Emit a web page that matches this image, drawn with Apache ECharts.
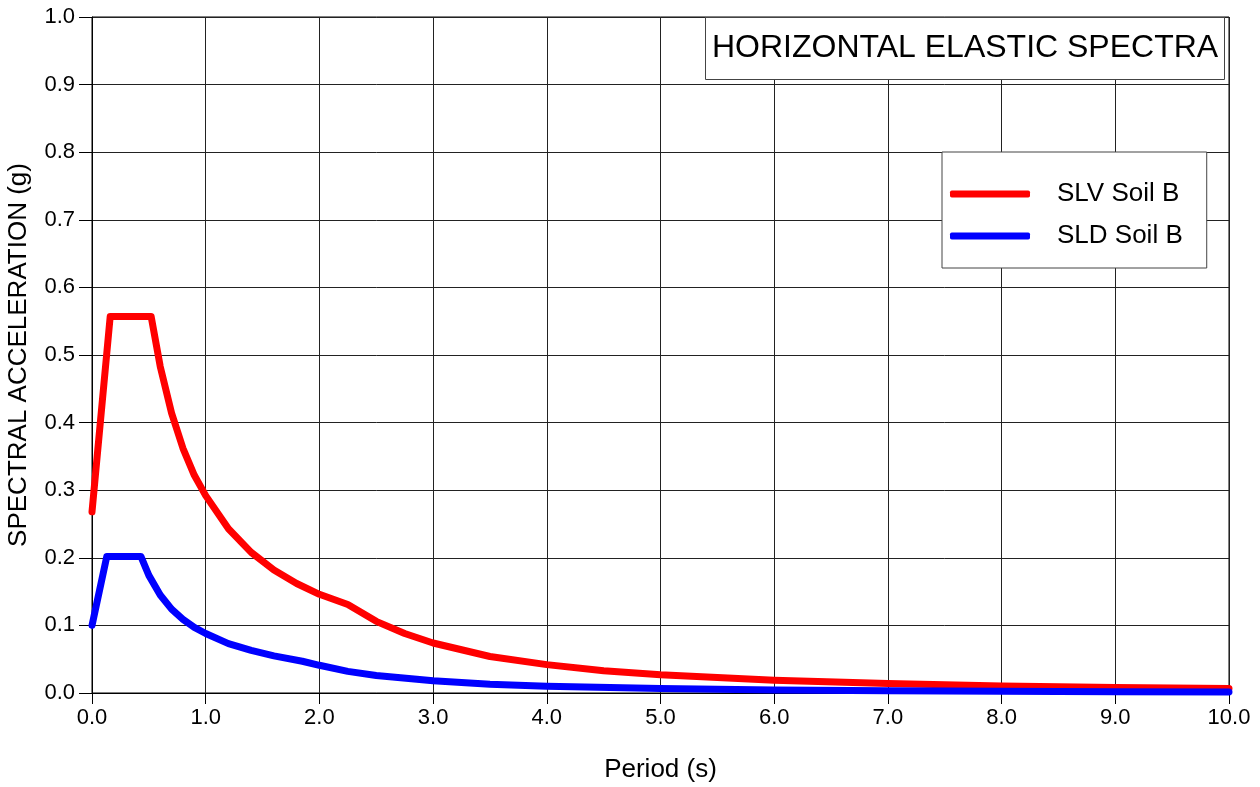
<!DOCTYPE html>
<html>
<head>
<meta charset="utf-8">
<script src="https://cdn.jsdelivr.net/npm/echarts@6/dist/echarts.min.js"></script>
<style>
	html, body { margin: 0; padding: 0; background: #fff; }
	#chart { width: 1260px; height: 787px; }
</style>
</head>
<body>
<div id="chart"></div>
<script>
// values (period in s, acceleration in g)
var slvPeriod = [0, 0.16, 0.52, 0.6, 0.7, 0.8, 0.9, 1.0, 1.2, 1.4, 1.6, 1.8, 2.0, 2.25, 2.5, 2.75, 3.0, 3.5, 4.0, 4.5, 5.0, 6.0, 7.0, 8.0, 9.0, 10.0];
var slvAccel = [0.268, 0.557, 0.557, 0.483, 0.414, 0.362, 0.322, 0.292, 0.243, 0.208, 0.182, 0.162, 0.146, 0.131, 0.106, 0.088, 0.074, 0.054, 0.042, 0.033, 0.027, 0.019, 0.014, 0.0105, 0.0083, 0.0067];

var sldPeriod = [0, 0.13, 0.43, 0.5, 0.6, 0.7, 0.8, 0.9, 1.0, 1.2, 1.4, 1.6, 1.85, 2.0, 2.25, 2.5, 3.0, 3.5, 4.0, 5.0, 6.0, 7.0, 8.0, 9.0, 10.0];
var sldAccel = [0.100, 0.202, 0.202, 0.174, 0.145, 0.124, 0.109, 0.097, 0.088, 0.073, 0.063, 0.055, 0.047, 0.041, 0.032, 0.026, 0.018, 0.013, 0.010, 0.0065, 0.0045, 0.0033, 0.0025, 0.0020, 0.0016];

var seriesNames = ['SLV Soil B', 'SLD Soil B'];
var seriesColors = ['#ff0000', '#0000ff'];

function pairs(xs, ys) {
	var out = [];
	for (var i = 0; i < xs.length; i++) out.push([xs[i], ys[i]]);
	return out;
}

var font = 'Liberation Sans, Arial, sans-serif';
var chart = echarts.init(document.getElementById('chart'));

var option = {
	backgroundColor: '#fff',
	animation: false,
	textStyle: { fontFamily: font },
	grid: {
		left: 92, right: 31, top: 17, bottom: 94,
		outerBoundsMode: 'none', containLabel: false,
		show: true, borderColor: '#000', borderWidth: 1
	},
	title: {
		text: 'HORIZONTAL ELASTIC SPECTRA',
		left: 705, top: 17,
		padding: [15, 7, 15, 7],
		backgroundColor: '#fff',
		borderColor: '#444', borderWidth: 1,
		textStyle: { fontFamily: font, fontSize: 32, fontWeight: 'normal', color: '#000', lineHeight: 33 }
	},
	legend: {
		left: 942, top: 152,
		orient: 'vertical',
		padding: [29, 24, 19, 8],
		itemGap: 16,
		itemWidth: 80, itemHeight: 7,
		backgroundColor: '#fff',
		borderColor: '#444', borderWidth: 1, borderRadius: 0,
		textStyle: { fontFamily: font, fontSize: 26, color: '#000', padding: [0, 0, 0, 22] },
		data: [
			{ name: seriesNames[0], icon: 'roundRect' },
			{ name: seriesNames[1], icon: 'roundRect' }
		]
	},
	xAxis: {
		type: 'value', min: 0, max: 10, interval: 1,
		name: 'Period (s)', nameLocation: 'middle', nameGap: 64,
		nameTextStyle: { fontFamily: font, fontSize: 26, color: '#000' },
		axisLine: { lineStyle: { color: '#000', width: 1 } },
		axisTick: { show: true, length: 11, lineStyle: { color: '#000' } },
		axisLabel: { margin: 14, fontSize: 22, color: '#000', fontFamily: font,
			formatter: function (v) { return v.toFixed(1); } },
		splitLine: { show: true, lineStyle: { color: '#222', width: 1 } }
	},
	yAxis: {
		type: 'value', min: 0, max: 1, interval: 0.1,
		name: 'SPECTRAL ACCELERATION (g)', nameLocation: 'middle', nameGap: 60,
		nameTextStyle: { fontFamily: font, fontSize: 26, color: '#000' },
		axisLine: { show: true, lineStyle: { color: '#000', width: 1 } },
		axisTick: { show: true, length: 13, lineStyle: { color: '#000' } },
		axisLabel: { margin: 17, fontSize: 22, color: '#000', fontFamily: font,
			formatter: function (v) { return v.toFixed(1); } },
		splitLine: { show: true, lineStyle: { color: '#222', width: 1 } }
	},
	series: [
		{
			name: seriesNames[0], type: 'line', showSymbol: false, symbol: 'none',
			data: pairs(slvPeriod, slvAccel),
			itemStyle: { color: seriesColors[0] },
			lineStyle: { color: seriesColors[0], width: 7, cap: 'round', join: 'round' },
			z: 3
		},
		{
			name: seriesNames[1], type: 'line', showSymbol: false, symbol: 'none',
			data: pairs(sldPeriod, sldAccel),
			itemStyle: { color: seriesColors[1] },
			lineStyle: { color: seriesColors[1], width: 7, cap: 'round', join: 'round' },
			z: 4
		}
	]
};

chart.setOption(option);
</script>
</body>
</html>
